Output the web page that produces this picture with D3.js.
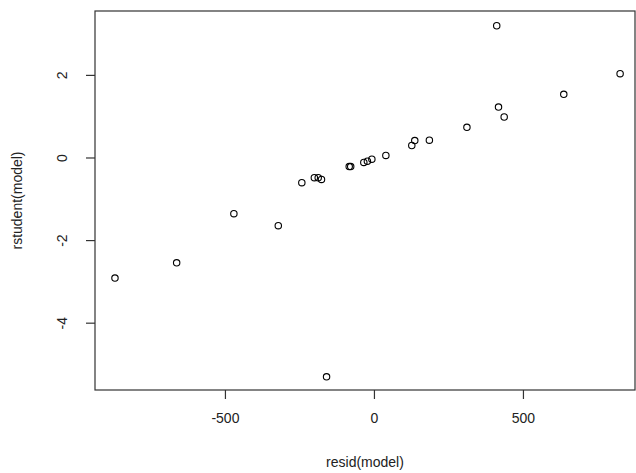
<!DOCTYPE html>
<html>
<head>
<meta charset="utf-8">
<script src="https://cdn.jsdelivr.net/npm/d3@7"></script>
<style>
  html, body { margin: 0; padding: 0; background: #fff; }
  svg { display: block; }
  text { font-family: "Liberation Sans", Arial, sans-serif; fill: #222; }
</style>
</head>
<body>
<svg id="chart" width="636" height="473"></svg>
<script>
// Data (resid(model) vs rstudent(model))
const residValues = [-869, -662, -470, -321, -242, -200, -187, -176, -83, -78, -34, -22, -7, 40, 127, 137, 186, 312, 412, 418, 437, 637, 826, -159];
const rstudentValues = [-2.92, -2.55, -1.36, -1.65, -0.61, -0.49, -0.49, -0.53, -0.22, -0.22, -0.12, -0.09, -0.04, 0.05, 0.29, 0.41, 0.42, 0.73, 3.19, 1.22, 0.98, 1.53, 2.03, -5.31];
const xTicks = [-500, 0, 500];
const yTicks = [-4, -2, 0, 2];
const xTitle = "resid(model)";
const yTitle = "rstudent(model)";

const points = residValues.map((r, i) => ({ x: r, y: rstudentValues[i] }));

const svg = d3.select("#chart");
const mLeft = 95, mRight = 635, mTop = 11, mBottom = 390;
const fs = "14px";

const x = d3.scaleLinear().domain([-936, 876]).range([mLeft, mRight]);
const y = d3.scaleLinear().domain([-5.63, 3.547]).range([mBottom, mTop]);

// frame
svg.append("rect")
  .attr("x", mLeft).attr("y", mTop)
  .attr("width", mRight - mLeft).attr("height", mBottom - mTop)
  .attr("fill", "none").attr("stroke", "#333").attr("stroke-width", 1.2);

// x axis
const gx = svg.append("g")
  .attr("transform", `translate(0,${mBottom})`)
  .call(d3.axisBottom(x).tickValues(xTicks).tickSize(9).tickPadding(14).tickFormat(d => String(d)));
gx.select(".domain").remove();
gx.selectAll(".tick line").attr("stroke", "#333").attr("stroke-width", 1.2);
gx.selectAll(".tick text").style("font-size", fs).attr("fill", "#222")
  .attr("font-family", "Liberation Sans, Arial, sans-serif");

// y axis
const gy = svg.append("g")
  .attr("transform", `translate(${mLeft},0)`)
  .call(d3.axisLeft(y).tickValues(yTicks).tickSize(9).tickFormat(d => String(d)));
gy.select(".domain").remove();
gy.selectAll(".tick line").attr("stroke", "#333").attr("stroke-width", 1.2);
gy.selectAll(".tick text")
  .attr("x", null).attr("dy", null)
  .attr("text-anchor", "middle")
  .attr("dominant-baseline", "central")
  .attr("transform", "translate(-33,0) rotate(-90)")
  .style("font-size", fs).attr("fill", "#222")
  .attr("font-family", "Liberation Sans, Arial, sans-serif");

// titles
svg.append("text")
  .attr("x", (mLeft + mRight) / 2).attr("y", 462)
  .attr("text-anchor", "middle").attr("dominant-baseline", "central")
  .style("font-size", fs)
  .text(xTitle);

svg.append("text")
  .attr("transform", `translate(17,${(mTop + mBottom) / 2}) rotate(-90)`)
  .attr("text-anchor", "middle").attr("dominant-baseline", "central")
  .style("font-size", fs)
  .text(yTitle);

// points
svg.append("g").selectAll("circle")
  .data(points)
  .join("circle")
  .attr("cx", d => x(d.x))
  .attr("cy", d => y(d.y))
  .attr("r", 3.2)
  .attr("fill", "none")
  .attr("stroke", "#000")
  .attr("stroke-width", 1.1);
</script>
</body>
</html>
